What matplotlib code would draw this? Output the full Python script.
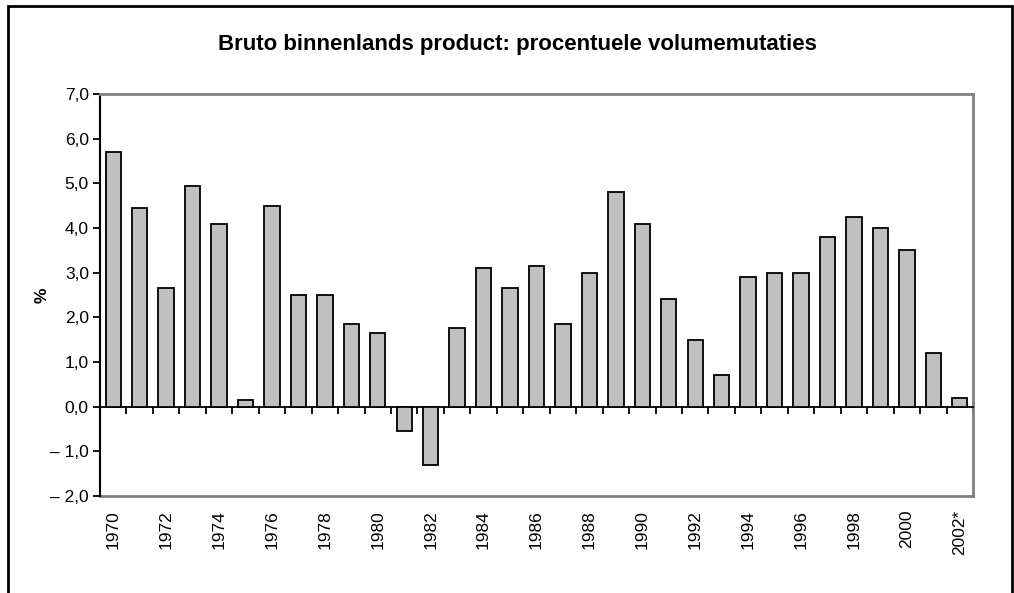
import matplotlib
matplotlib.use('Agg')
import matplotlib.pyplot as plt
from matplotlib.patches import Rectangle
from matplotlib.ticker import FixedLocator, FuncFormatter

# Data: BBP volumemutaties (%)
jaren = [str(j) for j in range(1970, 2002)] + ['2002*']
groei = [5.7, 4.45, 2.65, 4.95, 4.1, 0.15, 4.5, 2.5, 2.5, 1.85,
         1.65, -0.55, -1.3, 1.75, 3.1, 2.65, 3.15, 1.85, 3.0, 4.8,
         4.1, 2.4, 1.5, 0.7, 2.9, 3.0, 3.0, 3.8, 4.25, 4.0,
         3.5, 1.2, 0.2]
yticks = [-2, -1, 0, 1, 2, 3, 4, 5, 6, 7]

plt.rcParams['font.family'] = ['Liberation Sans', 'DejaVu Sans']

fig = plt.figure(figsize=(10.14, 5.93), dpi=100)
ax = fig.add_axes([0.0986, 0.1636, 0.861, 0.6779])

# outer frame of the chart
fig.patches.append(Rectangle((0.008, -0.05), 0.99, 1.04, transform=fig.transFigure,
                             fill=False, edgecolor='black', lw=2))

x = list(range(len(jaren)))
ax.bar(x, groei, width=0.58, color='#c0c0c0', edgecolor='black', linewidth=1.3, zorder=3)

ax.set_xlim(-0.5, len(jaren) - 0.5)
ax.set_ylim(-2, 7)
ax.set_yticks(yticks)
ax.yaxis.set_major_formatter(FuncFormatter(
    lambda v, p: ('\u2013 ' if v < 0 else '') + f'{abs(v):.1f}'.replace('.', ',')))
ax.tick_params(axis='y', direction='out', length=5, width=1.3, labelsize=12.5, pad=3)

# category axis on the zero line, ticks between bars
ax.spines['bottom'].set_position(('data', 0))
ax.spines['bottom'].set_linewidth(1.3)
ax.xaxis.set_major_locator(FixedLocator([i - 0.5 for i in range(len(jaren) + 1)]))
ax.tick_params(axis='x', direction='out', length=5, width=1.3, labelbottom=False)

ax.spines['left'].set_linewidth(1.5)
for s in ['top', 'right']:
    ax.spines[s].set_color('#808080')
    ax.spines[s].set_linewidth(2)

# labels at the bottom of the plot area
sec = ax.secondary_xaxis(-0.0)
sec.set_xticks(x[::2], [jaren[i] for i in x[::2]])
sec.tick_params(length=0, pad=10, labelsize=12.5, labelrotation=90)
sec.spines['bottom'].set_color('#808080')
sec.spines['bottom'].set_linewidth(2)

ax.set_ylabel('%', fontsize=12.5, fontweight='bold', labelpad=0)
fig.text(0.51, 0.925, 'Bruto binnenlands product: procentuele volumemutaties',
         ha='center', va='center', fontsize=16, fontweight='bold')

fig.savefig('out.png', dpi=100)
